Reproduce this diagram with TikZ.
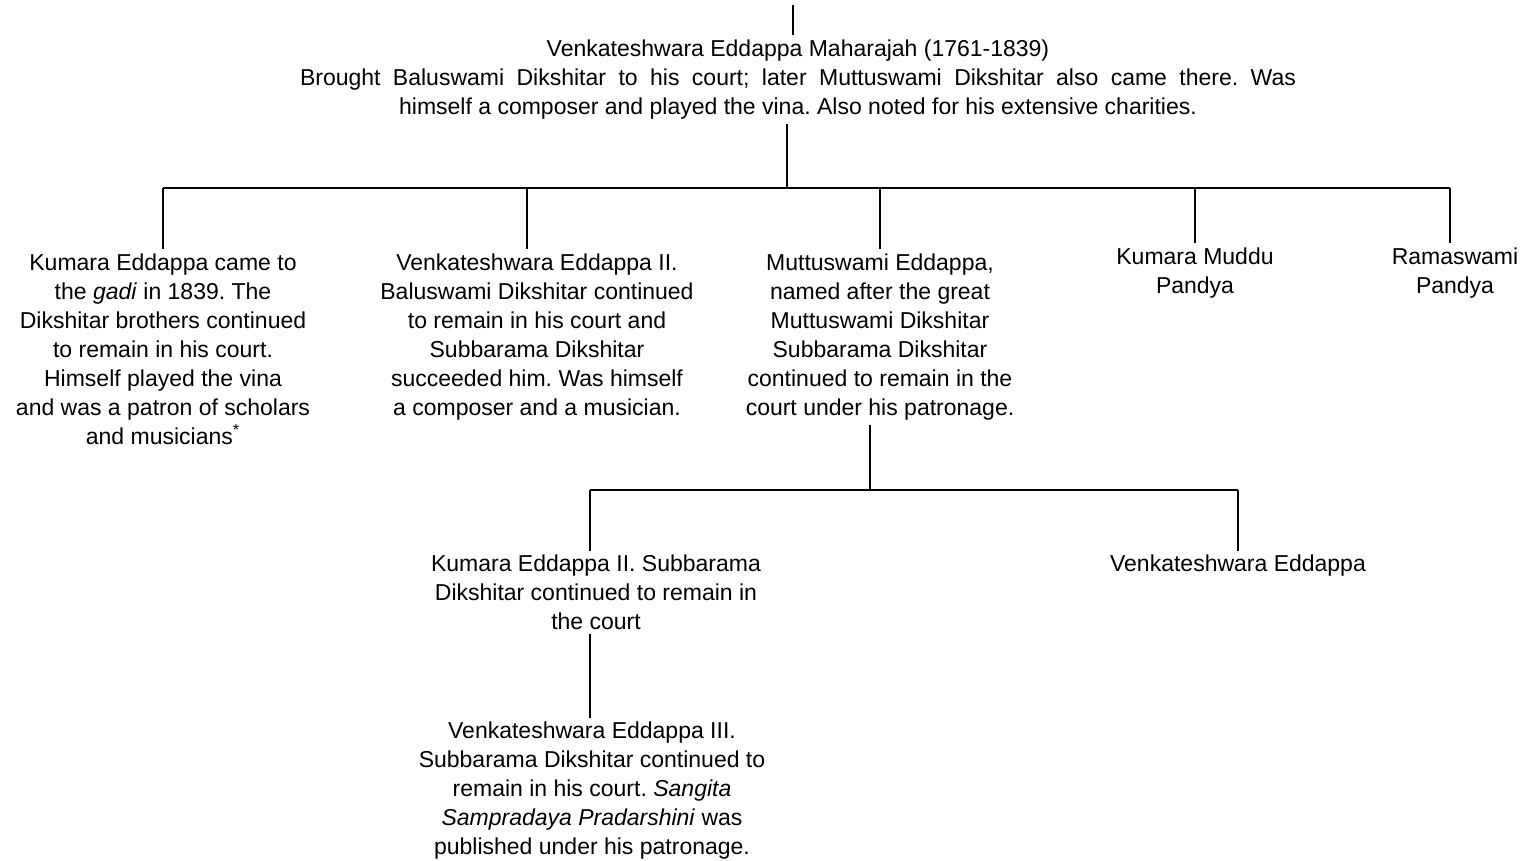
\documentclass[tikz,border=0pt]{standalone}
\usepackage{fontspec}
\setmainfont{Liberation Sans}
\frenchspacing
\tikzset{
  person/.style={align=center, inner sep=2pt, anchor=north, font=\fontsize{11.5}{14.5}\selectfont},
  branch/.style={line width=1.3pt}
}
\begin{document}
\begin{tikzpicture}[x=0.5pt, y=0.5pt]
\useasboundingbox (0,0) rectangle (1533,-861);
\node[person] (vem) at (798,-35.5){Venkateshwara Eddappa Maharajah (1761-1839)\\
\makebox[498pt][s]{Brought Baluswami Dikshitar to his court; later Muttuswami Dikshitar also came there. Was}\\
himself a composer and played the vina. Also noted for his extensive charities.};
\coordinate (top) at (793,-5);
\coordinate (j1) at (787,-188);
\node[person] (ke) at (163,-249.5){Kumara Eddappa came to\\ the \textit{gadi} in 1839. The\\ Dikshitar brothers continued\\ to remain in his court.\\ Himself played the vina\\ and was a patron of scholars\\ and musicians\textsuperscript{*}};
\node[person] (ve2) at (537,-249.5){Venkateshwara Eddappa II.\\ Baluswami Dikshitar continued\\ to remain in his court and\\ Subbarama Dikshitar\\ succeeded him. Was himself\\ a composer and a musician.};
\node[person] (me) at (880,-249.5){Muttuswami Eddappa,\\ named after the great\\ Muttuswami Dikshitar\\ Subbarama Dikshitar\\ continued to remain in the\\ court under his patronage.};
\node[person] (kmp) at (1195,-243.5){Kumara Muddu\\ Pandya};
\node[person] (rp) at (1455,-243.5){Ramaswami\\ Pandya};
\coordinate (j2) at (870,-490);
\node[person] (ke2) at (596,-550.5){Kumara Eddappa II. Subbarama\\ Dikshitar continued to remain in\\ the court};
\node[person] (ve) at (1238,-550.5){Venkateshwara Eddappa};
\node[person] (ve3) at (592,-717.5){Venkateshwara Eddappa III.\\ Subbarama Dikshitar continued to\\ remain in his court. \textit{Sangita}\\ \textit{Sampradaya Pradarshini} was\\ published under his patronage.};
\draw[branch] (top) -- (top |- vem.north);
\draw[branch] (vem.south -| j1) -- (j1);
\draw[branch] (163,-188) -- (1450,-188);
\draw[branch] (ke.north |- j1) -- (ke.north);
\draw[branch] (527,-188) -- (527,-249.5);
\draw[branch] (me.north |- j1) -- (me.north);
\draw[branch] (kmp.north |- j1) -- (kmp.north);
\draw[branch] (1450,-188) -- (1450,-243.5);
\draw[branch] (me.south -| j2) -- (j2);
\draw[branch] (590,-490) -- (1238,-490);
\draw[branch] (590,-490) -- (590,-550.5);
\draw[branch] (ve.north |- j2) -- (ve.north);
\draw[branch] (ke2.south -| 590,0) -- (ve3.north -| 590,0);
\end{tikzpicture}
\end{document}
